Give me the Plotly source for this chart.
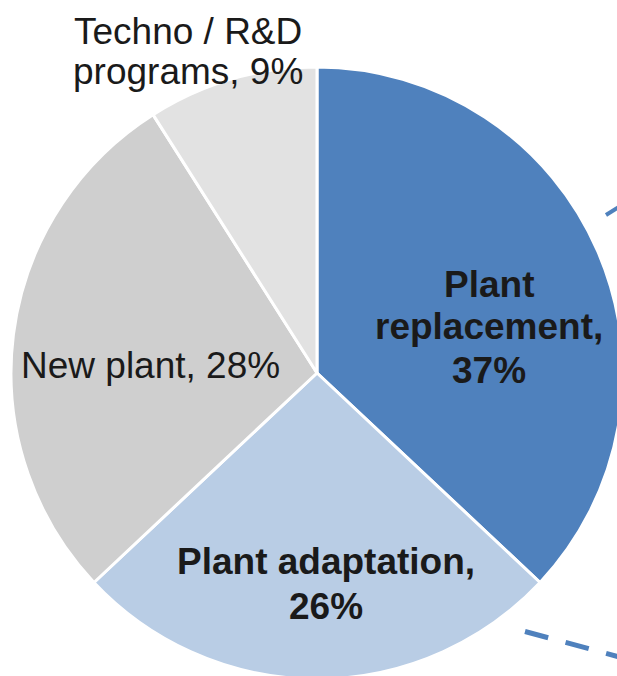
import plotly.graph_objects as go

# ---- data ----
labels = ["Plant replacement", "Plant adaptation", "New plant", "Techno / R&D programs"]
values = [37, 26, 28, 9]
colors = ["#4F81BD", "#B9CDE5", "#CFCFCF", "#E2E2E2"]
# how each label is wrapped onto lines (label words, then ", NN%")
label_lines = [
    ["Plant", "replacement,", "{v}%"],
    ["Plant adaptation,", "{v}%"],
    ["New plant, {v}%"],
    ["Techno / R&D", "programs, {v}%"],
]
label_bold = [True, True, False, False]

# ---- layout geometry (pixels) ----
W, H = 640, 700
CX, CY, R = 317, 373, 306
# label anchor (center x, first baseline, line step)
label_pos = [(489, 296, 43), (326, 573, 45), (150, 377, 0), (188, 44, 39)]
FS = 37


def px(x):
    return x / W


def py(y):
    return 1 - y / H


fig = go.Figure(go.Pie(
    labels=labels, values=values, sort=False, direction="clockwise", rotation=0,
    marker=dict(colors=colors, line=dict(color="white", width=3)),
    textinfo="none", hoverinfo="label+percent", showlegend=False,
    domain=dict(x=[px(CX - R), px(CX + R)], y=[py(CY + R), py(CY - R)]),
))

annotations = []
for lines, v, bold, (x0, y0, step) in zip(label_lines, values, label_bold, label_pos):
    for i, ln in enumerate(lines):
        t = ln.format(v=v)
        if bold:
            t = "<b>" + t + "</b>"
        base = y0 + i * step
        annotations.append(dict(
            x=px(x0), y=py(base - 12), xref="paper", yref="paper",
            text=t, showarrow=False, xanchor="center", yanchor="middle",
            font=dict(size=FS, color="#1A1A1A", family="Liberation Sans, Arial, sans-serif"),
        ))

shapes = [
    dict(type="line", xref="paper", yref="paper",
         x0=px(525), y0=py(631.5), x1=px(640), y1=py(662.5),
         line=dict(color="#4F81BD", width=5, dash="24px,18px")),
    dict(type="line", xref="paper", yref="paper",
         x0=px(606), y0=py(215), x1=px(640), y1=py(194),
         line=dict(color="#4F81BD", width=4, dash="24px,18px")),
]

fig.update_layout(
    width=W, height=H, autosize=False,
    margin=dict(l=0, r=0, t=0, b=0),
    paper_bgcolor="white", plot_bgcolor="white",
    annotations=annotations, shapes=shapes,
)

fig.write_html(
    "out.html",
    post_script=(
        "document.body.style.margin='0';"
        "document.body.style.overflow='hidden';"
        "document.documentElement.style.overflow='hidden';"
    ),
)
